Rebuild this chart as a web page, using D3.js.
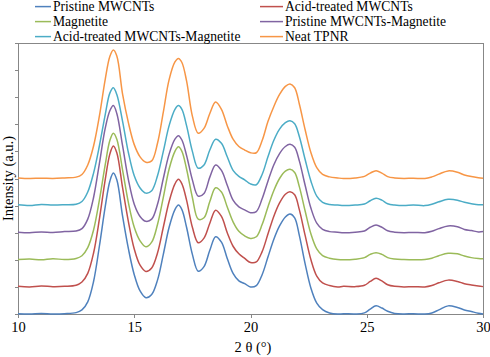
<!DOCTYPE html>
<html><head><meta charset="utf-8">
<script src="https://cdn.jsdelivr.net/npm/d3@7"></script>
<style>body{margin:0;background:#fff}svg{display:block}</style>
</head><body>
<svg id="chart" width="490" height="357"></svg>
<script>
const twoTheta = [10,10.5,11,11.5,12,12.5,12.75,13,13.25,13.5,13.75,13.95,14.1,14.25,14.5,14.75,15,15.25,15.5,15.75,16,16.25,16.5,16.75,16.9,17.05,17.25,17.5,17.75,18,18.25,18.5,18.75,19,19.25,19.5,19.75,20,20.25,20.5,20.75,21,21.25,21.5,21.7,21.9,22.1,22.35,22.6,22.85,23.1,23.4,23.75,24,24.5,24.9,25.15,25.4,25.65,25.9,26.2,26.6,27,27.5,27.8,28.1,28.5,28.9,29.2,29.5,29.8,30];

const pristineMWCNTs = [0.01,0,0.02,0,0.01,0.05,0.15,0.45,1.2,2.5,3.95,4.9,5.2,4.95,3.6,2.4,1.45,0.85,0.6,0.72,1.25,2.2,3.2,3.85,4.02,3.85,3.2,2.2,1.58,1.75,2.35,2.85,2.65,2.05,1.5,1.22,1.12,1.0,1.05,1.45,2.1,2.75,3.25,3.58,3.69,3.55,2.9,1.85,0.95,0.4,0.16,0.04,0,0.01,0,0.04,0.18,0.3,0.22,0.1,0.02,0,0.01,0,0.04,0.15,0.3,0.24,0.15,0.09,0.03,0];

const acidMWCNTs = [1.02,1.0,1.03,1.01,1.02,1.06,1.18,1.5,2.25,3.5,4.95,5.9,6.2,5.95,4.65,3.4,2.4,1.8,1.57,1.7,2.25,3.2,4.15,4.8,4.97,4.8,4.2,3.2,2.63,2.8,3.35,3.83,3.6,3.0,2.5,2.22,2.05,1.9,1.92,2.3,2.95,3.6,4.1,4.42,4.51,4.4,3.85,2.9,2.0,1.4,1.15,1.05,1.0,1.02,1.01,1.06,1.2,1.32,1.22,1.08,1.02,1.0,1.01,1.0,1.05,1.15,1.25,1.2,1.12,1.07,1.03,1.01];

const magnetite = [2.01,2.03,2.0,2.04,2.01,2.05,2.15,2.45,3.1,4.2,5.5,6.4,6.67,6.45,5.3,4.1,3.2,2.7,2.48,2.65,3.3,4.3,5.35,6.0,6.17,6.0,5.35,4.3,3.5,3.55,4.15,4.66,4.5,3.95,3.4,3.05,2.88,2.79,2.85,3.3,3.95,4.55,5.0,5.27,5.34,5.22,4.7,3.8,2.95,2.4,2.15,2.06,2.01,2.0,2.02,2.08,2.2,2.26,2.2,2.08,2.03,2.01,2.0,2.01,2.06,2.15,2.24,2.22,2.14,2.08,2.05,2.04];

const pristineMagnetite = [3.02,3.0,3.03,3.01,3.04,3.06,3.15,3.5,4.3,5.55,6.85,7.5,7.69,7.4,6.2,4.95,4.05,3.6,3.42,3.5,4.05,5.0,5.9,6.45,6.58,6.42,5.85,4.95,4.35,4.45,5.05,5.5,5.3,4.75,4.2,3.95,3.84,3.74,3.78,4.25,4.9,5.5,5.92,6.18,6.26,6.15,5.65,4.75,3.9,3.35,3.12,3.04,3.02,3.0,3.02,3.06,3.2,3.28,3.2,3.07,3.02,3.0,3.01,3.0,3.05,3.15,3.25,3.22,3.12,3.08,3.03,3.04];

const acidMagnetite = [4.03,4.0,4.04,4.02,4.03,4.05,4.15,4.5,5.2,6.2,7.35,8.15,8.35,8.1,7.1,5.95,5.1,4.65,4.46,4.55,5.1,6.0,6.95,7.55,7.69,7.55,6.95,6.0,5.38,5.5,6.05,6.45,6.3,5.8,5.3,5.08,4.95,4.8,4.77,5.15,5.8,6.4,6.82,7.06,7.13,7.02,6.55,5.7,4.9,4.35,4.12,4.04,4.02,4.0,4.02,4.06,4.18,4.27,4.2,4.07,4.02,4.0,4.02,4.0,4.05,4.14,4.23,4.2,4.12,4.07,4.03,4.03];

const neatTPNR = [5.02,5.0,5.01,5.0,5.02,5.05,5.15,5.5,6.2,7.3,8.65,9.5,9.74,9.52,8.1,7.05,6.25,5.8,5.6,5.65,6.3,7.45,8.65,9.3,9.43,9.28,8.6,7.3,6.67,6.85,7.4,7.82,7.55,6.95,6.45,6.18,6.05,5.95,5.95,6.4,7.1,7.65,8.1,8.4,8.49,8.35,7.75,6.8,5.95,5.4,5.15,5.06,5.02,5.0,5.02,5.08,5.2,5.29,5.2,5.07,5.02,5.0,5.01,5.0,5.06,5.16,5.28,5.23,5.13,5.07,5.03,5.01];

const seriesNames = ["Pristine MWCNTs","Acid-treated MWCNTs","Magnetite","Pristine MWCNTs-Magnetite","Acid-treated MWCNTs-Magnetite","Neat TPNR"];
const seriesColors = ["#4F81BD","#C0504D","#9BBB59","#8064A2","#4BACC6","#F79646"];
const seriesValues = [pristineMWCNTs, acidMWCNTs, magnetite, pristineMagnetite, acidMagnetite, neatTPNR];
const xTickValues = [10,15,20,25,30];
const yTickValues = [0,1,2,3,4,5,6,7,8,9,10];
const xTitle = "2 θ (°)";
const yTitle = "Intensity (a.u.)";

const svg = d3.select("#chart");
const font = "'Liberation Serif','Times New Roman',serif";
const x = d3.scaleLinear().domain([10,30]).range([18,483]);
const y = d3.scaleLinear().domain([0,10]).range([314,43]);
const axisColor = "#878787";

// frame
svg.append("rect").attr("x",x(10)).attr("y",y(10)).attr("width",x(30)-x(10)).attr("height",y(0)-y(10))
  .attr("fill","none").attr("stroke",axisColor).attr("stroke-width",1).attr("shape-rendering","crispEdges");

const xAxis = svg.append("g").attr("transform",`translate(0,${y(0)})`)
  .call(d3.axisBottom(x).tickValues(xTickValues).tickSize(4).tickPadding(4).tickFormat(d3.format("d")));
const yAxis = svg.append("g").attr("transform",`translate(${x(10)},0)`)
  .call(d3.axisLeft(y).tickValues(yTickValues).tickSize(3).tickFormat(""));
[xAxis,yAxis].forEach(g=>{
  g.select(".domain").attr("stroke",axisColor).attr("shape-rendering","crispEdges");
  g.selectAll(".tick line").attr("stroke",axisColor).attr("shape-rendering","crispEdges");
  g.selectAll("text").attr("font-family",font).attr("font-size","14.5px").attr("fill","#000");
});

svg.append("text").attr("x",253).attr("y",352).attr("text-anchor","middle")
  .attr("font-family",font).attr("font-size","14.5px").text(xTitle);
svg.append("text").attr("transform",`translate(13,${(y(0)+y(10))/2}) rotate(-90)`).attr("text-anchor","middle")
  .attr("font-family",font).attr("font-size","14.5px").text(yTitle);

const line = d3.line().x((d,i)=>x(twoTheta[i])).y(d=>y(d)).curve(d3.curveCatmullRom.alpha(0.5));
seriesValues.forEach((vals,k)=>{
  svg.append("path").datum(vals).attr("d",line).attr("fill","none")
    .attr("stroke",seriesColors[k]).attr("stroke-width",1.5).attr("stroke-linejoin","round");
});

// legend
const legendPos = [
  {lx1:35,lx2:51,tx:53,ly:6.6},
  {lx1:260,lx2:283,tx:285,ly:6.6},
  {lx1:35,lx2:51,tx:53,ly:21.6},
  {lx1:260,lx2:283,tx:285,ly:21.6},
  {lx1:35,lx2:51,tx:53,ly:36.6},
  {lx1:260,lx2:283,tx:285,ly:36.6}
];
seriesNames.forEach((name,k)=>{
  const p = legendPos[k];
  svg.append("line").attr("x1",p.lx1).attr("x2",p.lx2).attr("y1",p.ly).attr("y2",p.ly)
    .attr("stroke",seriesColors[k]).attr("stroke-width",1.5);
  svg.append("text").attr("x",p.tx).attr("y",p.ly+4.4).attr("font-family",font).attr("font-size","13.6px")
    .attr("fill","#000").text(name);
});
</script>
</body></html>
